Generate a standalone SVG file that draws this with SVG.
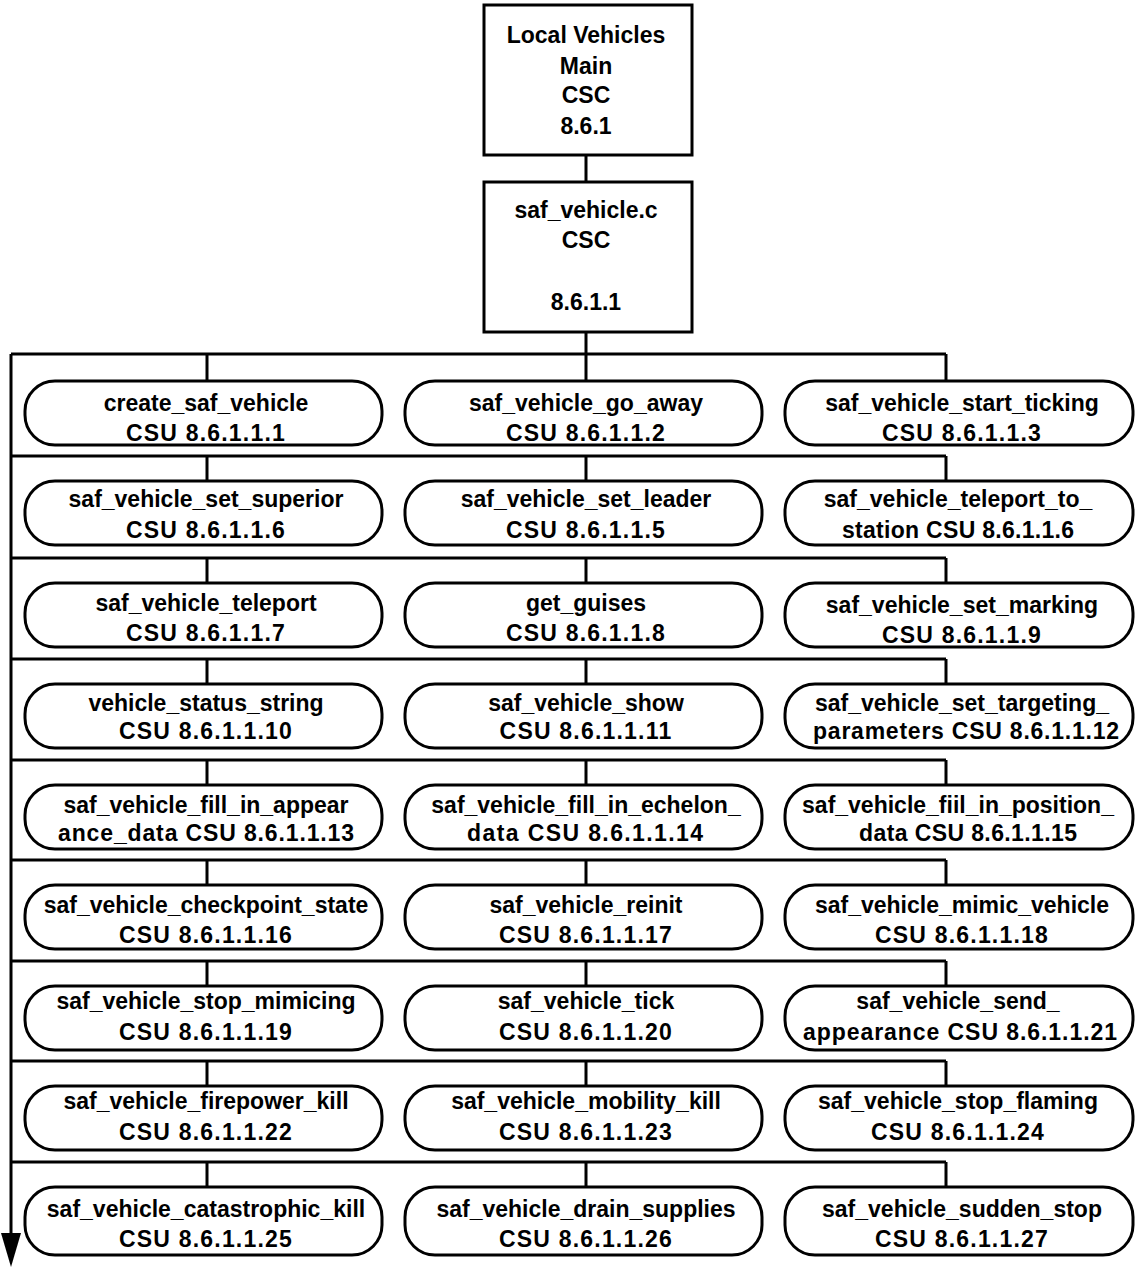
<svg xmlns="http://www.w3.org/2000/svg" width="1135" height="1268" viewBox="0 0 1135 1268">
<style>
.box{fill:#fff;stroke:#000;stroke-width:3}
.ln{fill:none;stroke:#000;stroke-width:3}
text{font-family:"Liberation Sans",Arial,Helvetica,sans-serif;font-size:23px;font-weight:bold;fill:#000;text-anchor:middle}
.n{letter-spacing:1.2px}
</style>
<rect width="1135" height="1268" fill="#fff"/>
<g id="connectors">
<path class="ln" d="M586 155V182M586 332V354"/>
<path class="ln" d="M11 354H946M207 354V381M586 354V381M946 354V381"/>
<path class="ln" d="M11 456H946M207 456V481M586 456V481M946 456V481"/>
<path class="ln" d="M11 558H946M207 558V583M586 558V583M946 558V583"/>
<path class="ln" d="M11 659H946M207 659V684M586 659V684M946 659V684"/>
<path class="ln" d="M11 760H946M207 760V785M586 760V785M946 760V785"/>
<path class="ln" d="M11 860H946M207 860V885M586 860V885M946 860V885"/>
<path class="ln" d="M11 961H946M207 961V986M586 961V986M946 961V986"/>
<path class="ln" d="M11 1061H946M207 1061V1086M586 1061V1086M946 1061V1086"/>
<path class="ln" d="M11 1162H946M207 1162V1187M586 1162V1187M946 1162V1187"/>
<path class="ln" d="M11 354V1236"/>
<polygon points="1,1233 21,1233 11,1267" fill="#000"/>
</g>
<g id="main">
<rect class="box" x="484" y="5" width="208" height="150"/>
<text x="586" y="43">Local Vehicles</text>
<text x="586" y="74">Main</text>
<text x="586" y="103">CSC</text>
<text x="586" y="134">8.6.1</text>
</g>
<g id="saf_vehicle_c">
<rect class="box" x="484" y="182" width="208" height="150"/>
<text x="586" y="218">saf_vehicle.c</text>
<text x="586" y="248">CSC</text>
<text x="586" y="310">8.6.1.1</text>
</g>
<g id="n1"><rect class="box" x="25" y="381" width="357" height="64" rx="30" ry="30"/><text x="206" y="411">create_saf_vehicle</text><text class="n" x="206" y="441">CSU 8.6.1.1.1</text></g>
<g id="n2"><rect class="box" x="405" y="381" width="357" height="64" rx="30" ry="30"/><text x="586" y="411">saf_vehicle_go_away</text><text class="n" x="586" y="441">CSU 8.6.1.1.2</text></g>
<g id="n3"><rect class="box" x="785" y="381" width="348" height="64" rx="30" ry="30"/><text x="962" y="411">saf_vehicle_start_ticking</text><text class="n" x="962" y="441">CSU 8.6.1.1.3</text></g>
<g id="n4"><rect class="box" x="25" y="481" width="357" height="64" rx="30" ry="30"/><text x="206" y="507">saf_vehicle_set_superior</text><text class="n" x="206" y="538">CSU 8.6.1.1.6</text></g>
<g id="n5"><rect class="box" x="405" y="481" width="357" height="64" rx="30" ry="30"/><text x="586" y="507">saf_vehicle_set_leader</text><text class="n" x="586" y="538">CSU 8.6.1.1.5</text></g>
<g id="n6"><rect class="box" x="785" y="481" width="348" height="64" rx="30" ry="30"/><text x="958" y="507">saf_vehicle_teleport_to_</text><text x="958" y="538" textLength="232" lengthAdjust="spacing">station CSU 8.6.1.1.6</text></g>
<g id="n7"><rect class="box" x="25" y="583" width="357" height="64" rx="30" ry="30"/><text x="206" y="611">saf_vehicle_teleport</text><text class="n" x="206" y="641">CSU 8.6.1.1.7</text></g>
<g id="n8"><rect class="box" x="405" y="583" width="357" height="64" rx="30" ry="30"/><text x="586" y="611">get_guises</text><text class="n" x="586" y="641">CSU 8.6.1.1.8</text></g>
<g id="n9"><rect class="box" x="785" y="583" width="348" height="64" rx="30" ry="30"/><text x="962" y="613">saf_vehicle_set_marking</text><text class="n" x="962" y="643">CSU 8.6.1.1.9</text></g>
<g id="n10"><rect class="box" x="25" y="684" width="357" height="64" rx="30" ry="30"/><text x="206" y="711">vehicle_status_string</text><text class="n" x="206" y="739">CSU 8.6.1.1.10</text></g>
<g id="n11"><rect class="box" x="405" y="684" width="357" height="64" rx="30" ry="30"/><text x="586" y="711">saf_vehicle_show</text><text class="n" x="586" y="739">CSU 8.6.1.1.11</text></g>
<g id="n12"><rect class="box" x="785" y="684" width="348" height="64" rx="30" ry="30"/><text x="962" y="711">saf_vehicle_set_targeting_</text><text x="966" y="739" textLength="306" lengthAdjust="spacing">parameters CSU 8.6.1.1.12</text></g>
<g id="n13"><rect class="box" x="25" y="785" width="357" height="64" rx="30" ry="30"/><text x="206" y="813">saf_vehicle_fill_in_appear</text><text x="206" y="841" textLength="296" lengthAdjust="spacing">ance_data CSU 8.6.1.1.13</text></g>
<g id="n14"><rect class="box" x="405" y="785" width="357" height="64" rx="30" ry="30"/><text x="586" y="813">saf_vehicle_fill_in_echelon_</text><text x="585" y="841" textLength="236" lengthAdjust="spacing">data CSU 8.6.1.1.14</text></g>
<g id="n15"><rect class="box" x="785" y="785" width="348" height="64" rx="30" ry="30"/><text x="958" y="813">saf_vehicle_fiil_in_position_</text><text x="968" y="841" textLength="218" lengthAdjust="spacing">data CSU 8.6.1.1.15</text></g>
<g id="n16"><rect class="box" x="25" y="885" width="357" height="64" rx="30" ry="30"/><text x="206" y="913">saf_vehicle_checkpoint_state</text><text class="n" x="206" y="943">CSU 8.6.1.1.16</text></g>
<g id="n17"><rect class="box" x="405" y="885" width="357" height="64" rx="30" ry="30"/><text x="586" y="913">saf_vehicle_reinit</text><text class="n" x="586" y="943">CSU 8.6.1.1.17</text></g>
<g id="n18"><rect class="box" x="785" y="885" width="348" height="64" rx="30" ry="30"/><text x="962" y="913">saf_vehicle_mimic_vehicle</text><text class="n" x="962" y="943">CSU 8.6.1.1.18</text></g>
<g id="n19"><rect class="box" x="25" y="986" width="357" height="64" rx="30" ry="30"/><text x="206" y="1009">saf_vehicle_stop_mimicing</text><text class="n" x="206" y="1040">CSU 8.6.1.1.19</text></g>
<g id="n20"><rect class="box" x="405" y="986" width="357" height="64" rx="30" ry="30"/><text x="586" y="1009">saf_vehicle_tick</text><text class="n" x="586" y="1040">CSU 8.6.1.1.20</text></g>
<g id="n21"><rect class="box" x="785" y="986" width="348" height="64" rx="30" ry="30"/><text x="958" y="1009">saf_vehicle_send_</text><text x="960" y="1040" textLength="314" lengthAdjust="spacing">appearance  CSU 8.6.1.1.21</text></g>
<g id="n22"><rect class="box" x="25" y="1086" width="357" height="64" rx="30" ry="30"/><text x="206" y="1109">saf_vehicle_firepower_kill</text><text class="n" x="206" y="1140">CSU 8.6.1.1.22</text></g>
<g id="n23"><rect class="box" x="405" y="1086" width="357" height="64" rx="30" ry="30"/><text x="586" y="1109">saf_vehicle_mobility_kill</text><text class="n" x="586" y="1140">CSU 8.6.1.1.23</text></g>
<g id="n24"><rect class="box" x="785" y="1086" width="348" height="64" rx="30" ry="30"/><text x="958" y="1109">saf_vehicle_stop_flaming</text><text class="n" x="958" y="1140">CSU 8.6.1.1.24</text></g>
<g id="n25"><rect class="box" x="25" y="1187" width="357" height="68" rx="30" ry="30"/><text x="206" y="1217">saf_vehicle_catastrophic_kill</text><text class="n" x="206" y="1247">CSU 8.6.1.1.25</text></g>
<g id="n26"><rect class="box" x="405" y="1187" width="357" height="68" rx="30" ry="30"/><text x="586" y="1217">saf_vehicle_drain_supplies</text><text class="n" x="586" y="1247">CSU 8.6.1.1.26</text></g>
<g id="n27"><rect class="box" x="785" y="1187" width="348" height="68" rx="30" ry="30"/><text x="962" y="1217">saf_vehicle_sudden_stop</text><text class="n" x="962" y="1247">CSU 8.6.1.1.27</text></g>
</svg>
